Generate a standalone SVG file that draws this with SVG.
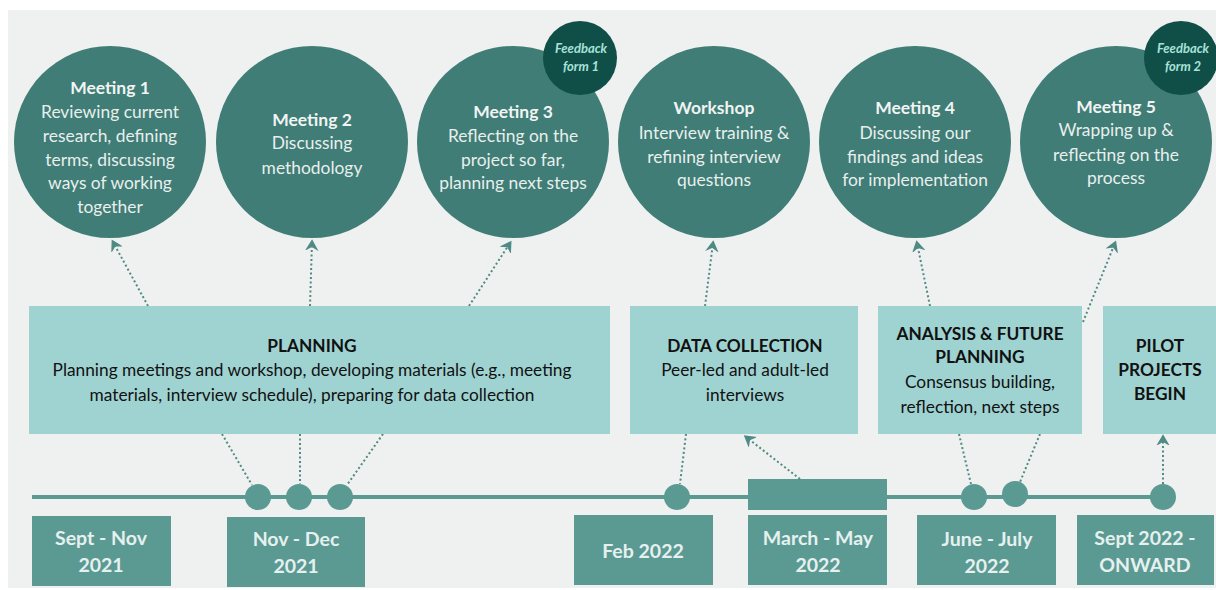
<svg xmlns="http://www.w3.org/2000/svg" width="1216" height="590" viewBox="0 0 1216 590">
  <style>
    .bg { fill: #eef1ef; }
    .meet { fill: #3f7d76; }
    .fb { fill: #0f4f47; }
    .phase { fill: #9fd3d2; }
    .date { fill: #5b9a93; }
    .dot { fill: #5b9a93; }
    .t { font-family: "Lato", "Liberation Sans", sans-serif; text-anchor: middle; }
    .mt { fill: #f1f4f2; font-size: 17.5px; font-weight: 700; }
    .mb { fill: #e9efed; font-size: 17.4px; }
    .ft { fill: #a9e2da; font-size: 13px; font-weight: 700; font-style: italic; }
    .pt { fill: #111; font-size: 17.3px; font-weight: 700; }
    .pb { fill: #111; font-size: 17.3px; }
    .dt { fill: #e6f1ef; font-size: 19.5px; font-weight: 700; }
    .link { stroke: #4f8a84; stroke-width: 2; stroke-dasharray: 2 2.5; fill: none; }
  </style>
  <defs>
    <marker id="arrow" viewBox="0 0 10 10" refX="6" refY="5" markerWidth="7" markerHeight="7" orient="auto">
      <path d="M1,1.5 L7,5 L1,8.5 L3,5 Z" fill="#4f8a84" stroke="#4f8a84" stroke-width="1"/>
    </marker>
  </defs>

  <rect width="1216" height="590" fill="#ffffff"/>
  <rect class="bg" x="8" y="10" width="1208" height="578"/>

  <!-- timeline axis -->
  <g id="timeline">
    <line x1="32" y1="497" x2="1163" y2="497" stroke="#5b9a93" stroke-width="4"/>
    <circle class="dot" cx="258" cy="497" r="13"/>
    <circle class="dot" cx="299" cy="497" r="13"/>
    <circle class="dot" cx="340" cy="497" r="13"/>
    <circle class="dot" cx="677" cy="497" r="13"/>
    <rect class="dot" x="748" y="479" width="139" height="31"/>
    <circle class="dot" cx="974" cy="497" r="13"/>
    <circle class="dot" cx="1015" cy="494" r="13"/>
    <circle class="dot" cx="1163" cy="497" r="13"/>
  </g>

  <!-- connectors -->
  <g id="connectors">
    <line class="link" x1="148" y1="306" x2="113" y2="242" marker-end="url(#arrow)"/>
    <line class="link" x1="310" y1="306" x2="312" y2="242" marker-end="url(#arrow)"/>
    <line class="link" x1="469" y1="306" x2="510" y2="243" marker-end="url(#arrow)"/>
    <line class="link" x1="705" y1="306" x2="713" y2="243" marker-end="url(#arrow)"/>
    <line class="link" x1="930" y1="306" x2="917" y2="243" marker-end="url(#arrow)"/>
    <line class="link" x1="1083" y1="322" x2="1115" y2="243" marker-end="url(#arrow)"/>

    <line class="link" x1="222" y1="434" x2="252" y2="485"/>
    <line class="link" x1="300" y1="434" x2="300" y2="484"/>
    <line class="link" x1="383" y1="434" x2="347" y2="485"/>
    <line class="link" x1="686" y1="434" x2="680" y2="484"/>
    <line class="link" x1="800" y1="479" x2="746" y2="437" marker-end="url(#arrow)"/>
    <line class="link" x1="959" y1="434" x2="971" y2="484"/>
    <line class="link" x1="1040" y1="434" x2="1020" y2="482"/>
    <line class="link" x1="1163" y1="484" x2="1163" y2="437" marker-end="url(#arrow)"/>
  </g>

  <!-- meetings -->
  <g id="meeting1">
    <circle class="meet" cx="110" cy="142" r="96"/>
    <text class="t mt" x="110" y="94">Meeting 1</text>
    <text class="t mb" x="110" y="118">Reviewing current</text>
    <text class="t mb" x="110" y="142">research, defining</text>
    <text class="t mb" x="110" y="166">terms, discussing</text>
    <text class="t mb" x="110" y="189">ways of working</text>
    <text class="t mb" x="110" y="213">together</text>
  </g>
  <g id="meeting2">
    <circle class="meet" cx="312" cy="142" r="96"/>
    <text class="t mt" x="312" y="126">Meeting 2</text>
    <text class="t mb" x="312" y="149">Discussing</text>
    <text class="t mb" x="312" y="174">methodology</text>
  </g>
  <g id="meeting3">
    <circle class="meet" cx="513" cy="142" r="96"/>
    <text class="t mt" x="513" y="118">Meeting 3</text>
    <text class="t mb" x="513" y="142">Reflecting on the</text>
    <text class="t mb" x="513" y="166">project so far,</text>
    <text class="t mb" x="513" y="189">planning next steps</text>
  </g>
  <g id="feedback1">
    <circle class="fb" cx="580" cy="58" r="37"/>
    <text class="t ft" x="581" y="53">Feedback</text>
    <text class="t ft" x="581" y="71">form 1</text>
  </g>
  <g id="workshop">
    <circle class="meet" cx="714" cy="142" r="96"/>
    <text class="t mt" x="714" y="114">Workshop</text>
    <text class="t mb" x="714" y="139">Interview training &amp;</text>
    <text class="t mb" x="714" y="163">refining interview</text>
    <text class="t mb" x="714" y="186">questions</text>
  </g>
  <g id="meeting4">
    <circle class="meet" cx="915" cy="142" r="96"/>
    <text class="t mt" x="915" y="114">Meeting 4</text>
    <text class="t mb" x="915" y="139">Discussing our</text>
    <text class="t mb" x="915" y="163">findings and ideas</text>
    <text class="t mb" x="915" y="186">for implementation</text>
  </g>
  <g id="meeting5">
    <circle class="meet" cx="1116" cy="142" r="96"/>
    <text class="t mt" x="1116" y="113">Meeting 5</text>
    <text class="t mb" x="1116" y="136">Wrapping up &amp;</text>
    <text class="t mb" x="1116" y="161">reflecting on the</text>
    <text class="t mb" x="1116" y="184">process</text>
  </g>
  <g id="feedback2">
    <circle class="fb" cx="1181" cy="58" r="37"/>
    <text class="t ft" x="1183" y="53">Feedback</text>
    <text class="t ft" x="1183" y="71">form 2</text>
  </g>

  <!-- phases -->
  <g id="planning">
    <rect class="phase" x="29" y="306" width="581" height="128"/>
    <text class="t pt" x="312" y="352">PLANNING</text>
    <text class="t pb" x="312" y="376">Planning meetings and workshop, developing materials (e.g., meeting</text>
    <text class="t pb" x="312" y="401">materials, interview schedule), preparing for data collection</text>
  </g>
  <g id="data-collection">
    <rect class="phase" x="630" y="306" width="228" height="128"/>
    <text class="t pt" x="745" y="352">DATA COLLECTION</text>
    <text class="t pb" x="745" y="376">Peer-led and adult-led</text>
    <text class="t pb" x="745" y="401">interviews</text>
  </g>
  <g id="analysis">
    <rect class="phase" x="878" y="306" width="204" height="128"/>
    <text class="t pt" x="980" y="340">ANALYSIS &amp; FUTURE</text>
    <text class="t pt" x="980" y="363">PLANNING</text>
    <text class="t pb" x="980" y="388">Consensus building,</text>
    <text class="t pb" x="980" y="413">reflection, next steps</text>
  </g>
  <g id="pilot">
    <rect class="phase" x="1103" y="306" width="113" height="128"/>
    <text class="t pt" x="1160" y="352">PILOT</text>
    <text class="t pt" x="1160" y="376">PROJECTS</text>
    <text class="t pt" x="1160" y="400">BEGIN</text>
  </g>

  <!-- dates -->
  <g id="date-sept-nov">
    <rect class="date" x="32" y="516" width="139" height="70"/>
    <text class="t dt" x="101" y="545">Sept - Nov</text>
    <text class="t dt" x="101" y="572">2021</text>
  </g>
  <g id="date-nov-dec">
    <rect class="date" x="227" y="517" width="138" height="70"/>
    <text class="t dt" x="296" y="546">Nov - Dec</text>
    <text class="t dt" x="296" y="573">2021</text>
  </g>
  <g id="date-feb">
    <rect class="date" x="574" y="515" width="139" height="70"/>
    <text class="t dt" x="643" y="558">Feb 2022</text>
  </g>
  <g id="date-march-may">
    <rect class="date" x="748" y="515" width="139" height="70"/>
    <text class="t dt" x="818" y="545">March - May</text>
    <text class="t dt" x="818" y="572">2022</text>
  </g>
  <g id="date-june-july">
    <rect class="date" x="917" y="515" width="139" height="70"/>
    <text class="t dt" x="987" y="546">June - July</text>
    <text class="t dt" x="987" y="573">2022</text>
  </g>
  <g id="date-sept-onward">
    <rect class="date" x="1077" y="515" width="137" height="70"/>
    <text class="t dt" x="1145" y="545">Sept 2022 -</text>
    <text class="t dt" x="1145" y="572">ONWARD</text>
  </g>
</svg>
